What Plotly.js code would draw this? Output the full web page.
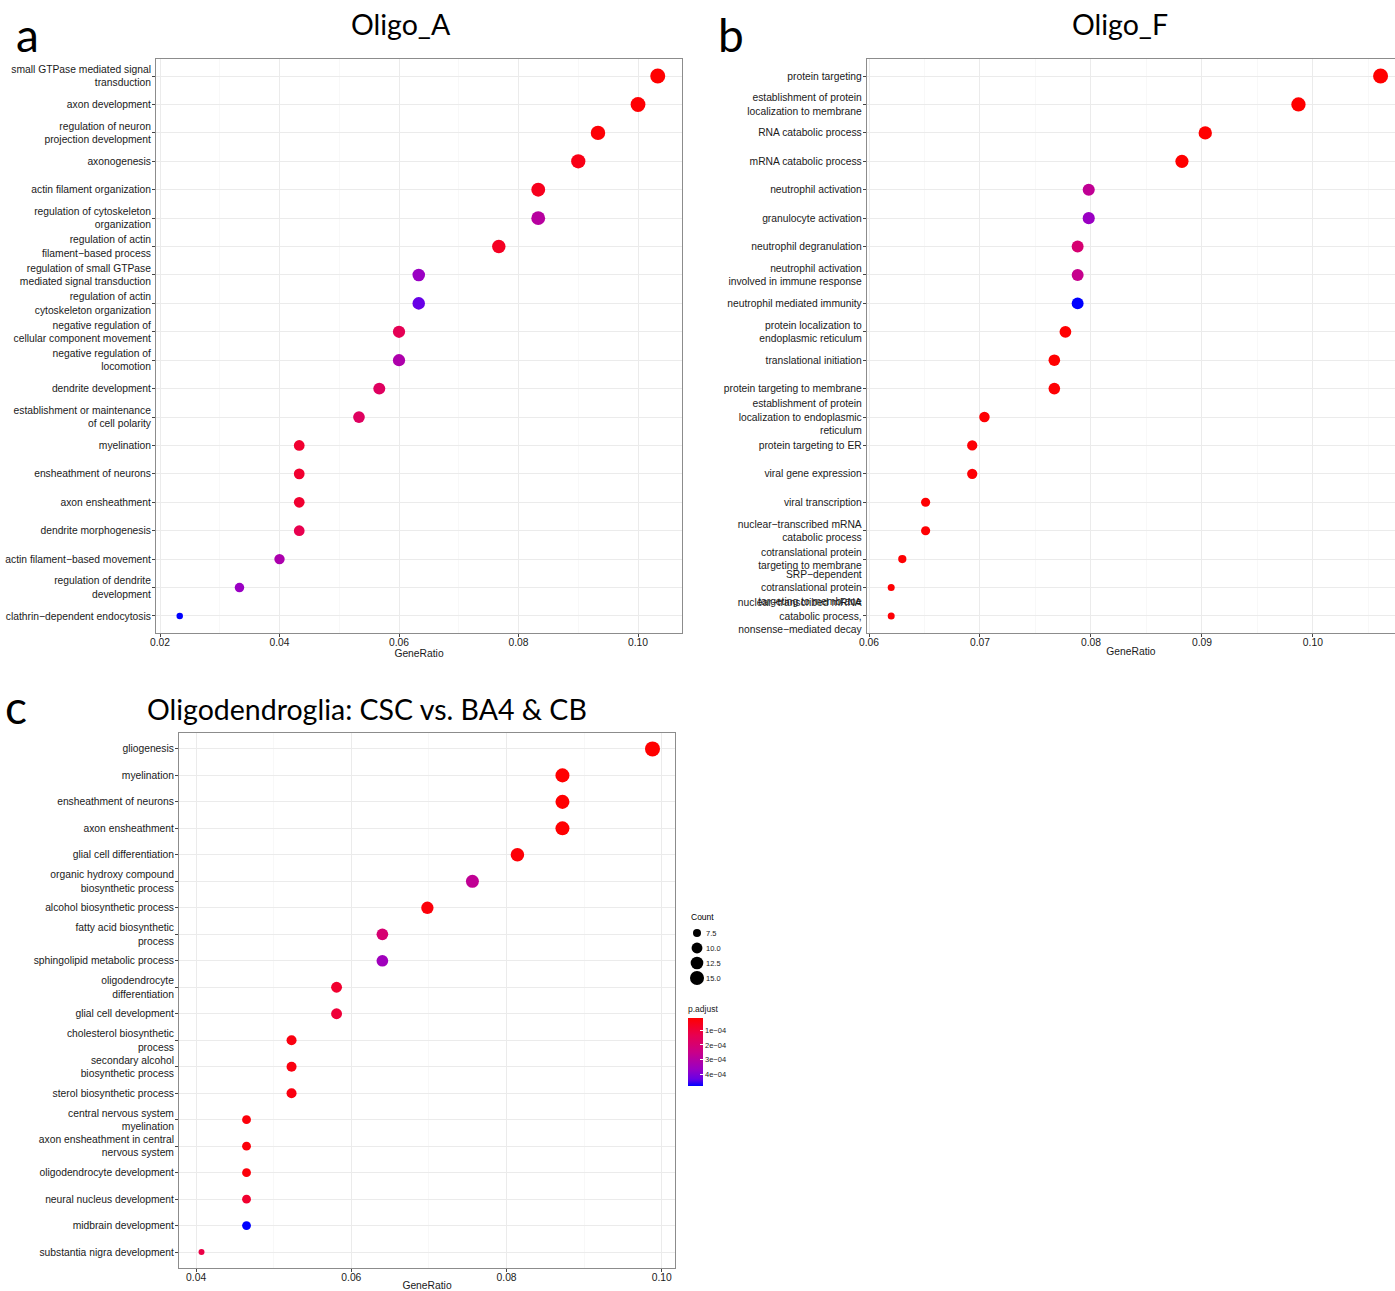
<!DOCTYPE html>
<html><head><meta charset="utf-8">
<script src="https://cdn.plot.ly/plotly-3.0.1.min.js"></script>
<style>html,body{margin:0;padding:0;background:#fff}#chart{width:1395px;height:1291px}</style>
</head><body><div id="chart"></div>
<script>
// ---------- Panel a: Oligo_A ----------
const termsA = [
  "small GTPase mediated signal<br>transduction",
  "axon development",
  "regulation of neuron<br>projection development",
  "axonogenesis",
  "actin filament organization",
  "regulation of cytoskeleton<br>organization",
  "regulation of actin<br>filament\u2212based process",
  "regulation of small GTPase<br>mediated signal transduction",
  "regulation of actin<br>cytoskeleton organization",
  "negative regulation of<br>cellular component movement",
  "negative regulation of<br>locomotion",
  "dendrite development",
  "establishment or maintenance<br>of cell polarity",
  "myelination",
  "ensheathment of neurons",
  "axon ensheathment",
  "dendrite morphogenesis",
  "actin filament\u2212based movement",
  "regulation of dendrite<br>development",
  "clathrin\u2212dependent endocytosis"
];
const ratioA = [0.1033,0.1000,0.0933,0.0900,0.0833,0.0833,0.0767,0.0633,0.0633,0.0600,0.0600,0.0567,0.0533,0.0433,0.0433,0.0433,0.0433,0.0400,0.0333,0.0233];
const countA = [31,30,28,27,25,25,23,19,19,18,18,17,16,13,13,13,13,12,10,7];
const padjA  = [1.0e-5,3.0e-5,5.0e-5,1.5e-4,1.9e-4,1.20e-3,2.3e-4,1.50e-3,1.80e-3,5.5e-4,1.30e-3,6.5e-4,6.5e-4,3.1e-4,3.1e-4,3.1e-4,5.1e-4,1.32e-3,1.50e-3,2.0e-3];

// ---------- Panel b: Oligo_F ----------
const termsB = [
  "protein targeting",
  "establishment of protein<br>localization to membrane",
  "RNA catabolic process",
  "mRNA catabolic process",
  "neutrophil activation",
  "granulocyte activation",
  "neutrophil degranulation",
  "neutrophil activation<br>involved in immune response",
  "neutrophil mediated immunity",
  "protein localization to<br>endoplasmic reticulum",
  "translational initiation",
  "protein targeting to membrane",
  "establishment of protein<br>localization to endoplasmic<br>reticulum",
  "protein targeting to ER",
  "viral gene expression",
  "viral transcription",
  "nuclear\u2212transcribed mRNA<br>catabolic process",
  "cotranslational protein<br>targeting to membrane",
  "SRP\u2212dependent<br>cotranslational protein<br>targeting to membrane",
  "nuclear\u2212transcribed mRNA<br>catabolic process,<br>nonsense\u2212mediated decay"
];
const ratioB = [0.1061,0.0987,0.0903,0.0882,0.0798,0.0798,0.0788,0.0788,0.0788,0.0777,0.0767,0.0767,0.0704,0.0693,0.0693,0.0651,0.0651,0.0630,0.0620,0.0620];
const countB = [101,94,86,84,76,76,75,75,75,74,73,73,67,66,66,62,62,60,59,59];
const padjB  = [3.1e-12,8.4e-11,5.5e-10,2.3e-9,1.65e-4,2.25e-4,1.2e-4,1.56e-4,3.0e-4,1.2e-6,4.0e-7,2.6e-6,3.9e-6,5.8e-6,4.4e-6,2.1e-6,3.3e-6,1.9e-6,2.7e-6,4.8e-6];

// ---------- Panel c: Oligodendroglia: CSC vs. BA4 & CB ----------
const termsC = [
  "gliogenesis",
  "myelination",
  "ensheathment of neurons",
  "axon ensheathment",
  "glial cell differentiation",
  "organic hydroxy compound<br>biosynthetic process",
  "alcohol biosynthetic process",
  "fatty acid biosynthetic<br>process",
  "sphingolipid metabolic process",
  "oligodendrocyte<br>differentiation",
  "glial cell development",
  "cholesterol biosynthetic<br>process",
  "secondary alcohol<br>biosynthetic process",
  "sterol biosynthetic process",
  "central nervous system<br>myelination",
  "axon ensheathment in central<br>nervous system",
  "oligodendrocyte development",
  "neural nucleus development",
  "midbrain development",
  "substantia nigra development"
];
const ratioC = [0.0988,0.0872,0.0872,0.0872,0.0814,0.0756,0.0698,0.0640,0.0640,0.0581,0.0581,0.0523,0.0523,0.0523,0.0465,0.0465,0.0465,0.0465,0.0465,0.0407];
const countC = [17,15,15,15,14,13,12,11,11,10,10,9,9,9,8,8,8,8,8,7];
const padjC  = [1.7e-5,1.9e-5,1.9e-5,1.9e-5,2.6e-5,2.72e-4,3.1e-5,2.02e-4,3.50e-4,8.6e-5,1.0e-4,4.0e-5,4.0e-5,4.0e-5,3.1e-5,3.1e-5,3.1e-5,8.6e-5,4.8e-4,1.19e-4];

// legends (panel c)
const countLegendVals = [7.5, 10.0, 12.5, 15.0];
const countLegendLabels = ["7.5", "10.0", "12.5", "15.0"];
const padjTickVals = [1e-4, 2e-4, 3e-4, 4e-4];
const padjTickLabels = ["1e\u221204", "2e\u221204", "3e\u221204", "4e\u221204"];

// ---------- styling ----------
const W = 1395, H = 1291;
const px = v => v / W;
const py = v => 1 - v / H;
const TXT = "Liberation Sans, Arial, Helvetica, sans-serif";
const TITLEF = "Lato, Open Sans, sans-serif";
// red (low p.adjust) -> blue (high), Lab-interpolated; colours are -p so red sits at the top of the bar
const cscale = [[0,'#0000FF'],[0.1,'#6800E6'],[0.25,'#9A00C3'],[0.5,'#CA0088'],[0.75,'#E8004F'],[1,'#FF0000']];

function sizeMap(vals, counts, dmin, dmax) {
  const lo = Math.min(...counts), hi = Math.max(...counts);
  return vals.map(c => dmin + Math.sqrt(Math.max(0, (c - lo) / (hi - lo))) * (dmax - dmin));
}

function dotTrace(x, y, counts, padj, xa, ya, dmin, dmax, withBar) {
  const neg = padj.map(p => -p);
  const t = {
    type: 'scatter', mode: 'markers', x: x, y: y, xaxis: xa, yaxis: ya,
    showlegend: false, hoverinfo: 'x+y',
    marker: {
      size: sizeMap(counts, counts, dmin, dmax),
      color: neg, colorscale: cscale,
      cmin: Math.min(...neg), cmax: Math.max(...neg),
      line: {width: 0}, opacity: 1, showscale: !!withBar
    }
  };
  if (withBar) {
    t.marker.colorbar = {
      x: px(688), xanchor: 'left', xref: 'paper',
      y: py(1086), yanchor: 'bottom', yref: 'paper',
      len: 83, lenmode: 'pixels', thickness: 15, thicknessmode: 'pixels',
      xpad: 0, ypad: 0, outlinewidth: 0,
      tickmode: 'array', tickvals: padjTickVals.map(v => -v), ticktext: padjTickLabels,
      ticks: 'inside', ticklen: 3, tickcolor: '#ffffff', tickwidth: 1,
      tickfont: {family: TXT, size: 7.5, color: '#1a1a1a'},
      title: {text: 'p.adjust', side: 'top', font: {family: TXT, size: 8.5, color: '#1a1a1a'}}
    };
  }
  return t;
}

function xAxis(dom, range, dtick, anchor) {
  return {
    domain: dom, range: range, anchor: anchor,
    tickmode: 'linear', tick0: 0, dtick: dtick, tickformat: '.2f',
    showgrid: true, gridcolor: '#EBEBEB', gridwidth: 1,
    minor: {showgrid: true, gridcolor: '#F5F5F5', gridwidth: 0.7, dtick: dtick / 2, tick0: 0},
    zeroline: false, showline: true, mirror: true, linecolor: '#8C8C8C', linewidth: 1,
    ticks: 'outside', ticklen: 3, tickcolor: '#444', tickwidth: 1,
    ticklabelstandoff: -3,
    tickfont: {family: TXT, size: 10.3, color: '#1a1a1a'},
    title: {text: 'GeneRatio', font: {family: TXT, size: 10.3, color: '#1a1a1a'}, standoff: 0},
    fixedrange: true
  };
}
function yAxis(dom, terms, anchor) {
  return {
    domain: dom, anchor: anchor, type: 'category',
    categoryorder: 'array', categoryarray: terms,
    range: [terms.length - 1 + 0.6, -0.6],
    showgrid: true, gridcolor: '#EBEBEB', gridwidth: 1,
    zeroline: false, showline: true, mirror: true, linecolor: '#8C8C8C', linewidth: 1,
    ticks: 'outside', ticklen: 3, tickcolor: '#444', tickwidth: 1,
    ticklabelstandoff: -1,
    tickfont: {family: TXT, size: 10.3, color: '#1a1a1a'},
    fixedrange: true
  };
}

const traces = [
  dotTrace(ratioA, termsA, countA, padjA, 'x', 'y', 6.5, 15, false),
  dotTrace(ratioB, termsB, countB, padjB, 'x2', 'y2', 7, 15, false),
  dotTrace(ratioC, termsC, countC, padjC, 'x3', 'y3', 6, 15, true),
  // Count size legend for panel c
  {
    type: 'scatter', mode: 'markers', x: countLegendVals.map(() => 0), y: countLegendLabels,
    xaxis: 'x4', yaxis: 'y4', showlegend: false, hoverinfo: 'skip',
    marker: {size: sizeMap(countLegendVals, countC, 6, 15), color: '#000000', opacity: 1, line: {width: 0}}
  }
];

function ann(text, x, y, size, fam, xanchor) {
  return {text: text, x: px(x), y: py(y), xref: 'paper', yref: 'paper', xanchor: xanchor || 'center', yanchor: 'middle',
          showarrow: false, font: {family: fam, size: size, color: '#000'}};
}

const layout = {
  width: W, height: H,
  margin: {l: 0, r: 0, t: 0, b: 0},
  paper_bgcolor: '#ffffff', plot_bgcolor: '#ffffff',
  showlegend: false,
  font: {family: TXT, color: '#1a1a1a'},
  xaxis:  xAxis([px(156), px(682)], [0.01933, 0.10736], 0.02, 'y'),
  yaxis:  yAxis([py(633), py(59)], termsA, 'x'),
  xaxis2: xAxis([px(866.8), 1], [0.0598, 0.1074], 0.01, 'y2'),
  yaxis2: yAxis([py(633), py(59)], termsB, 'x2'),
  xaxis3: xAxis([px(179), px(675)], [0.0378, 0.1017], 0.02, 'y3'),
  yaxis3: yAxis([py(1268), py(733)], termsC, 'x3'),
  xaxis4: {domain: [px(689), px(705)], range: [-1, 1], anchor: 'y4', visible: false, fixedrange: true},
  yaxis4: {domain: [py(985.5), py(925.5)], anchor: 'x4', type: 'category', side: 'right',
           categoryorder: 'array', categoryarray: countLegendLabels, range: [3.5, -0.5],
           showgrid: false, zeroline: false, showline: false, ticks: '',
           tickfont: {family: TXT, size: 7.5, color: '#1a1a1a'}, fixedrange: true},
  annotations: [
    ann('a', 27, 34, 46, TITLEF),
    ann('b', 731, 34, 46, TITLEF),
    ann('c', 16, 706, 46, TITLEF),
    ann('Oligo_A', 401, 24, 28.5, TITLEF),
    ann('Oligo_F', 1120, 24, 28.5, TITLEF),
    ann('Oligodendroglia: CSC vs. BA4 &amp; CB', 367, 709, 28.5, TITLEF),
    ann('Count', 689, 917, 8.5, TXT, 'left')
  ]
};

Plotly.newPlot('chart', traces, layout, {staticPlot: true, displayModeBar: false});
</script>
</body></html>
